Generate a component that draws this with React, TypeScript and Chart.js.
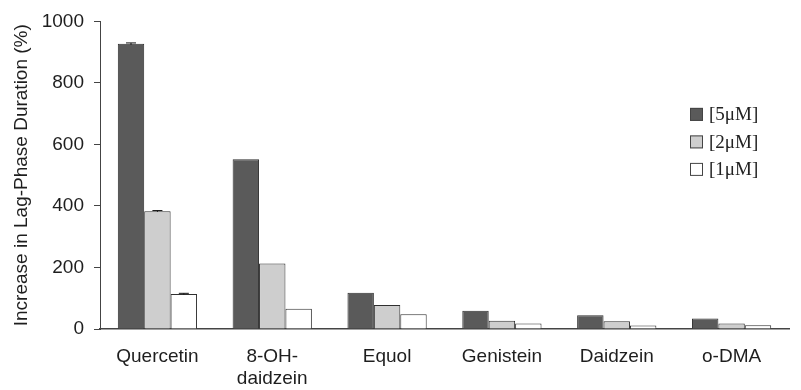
import React, { useEffect, useRef } from "react";
import { Chart, registerables } from "chart.js";

Chart.register(...registerables);

const categories: (string | string[])[] = ["Quercetin", ["8-OH-", "daidzein"], "Equol", "Genistein", "Daidzein", "o-DMA"];
const seriesLabels = ["[5\u03bcM]", "[2\u03bcM]", "[1\u03bcM]"];
const values5uM = [927, 552, 118, 59, 45, 34];
const values2uM = [383, 213, 78, 27, 25, 18];
const values1uM = [114, 66, 48, 18, 11, 12];
const errors5uM = [3, 0, 0, 0, 0, 0];
const errors2uM = [2, 0, 0, 0, 0, 0];
const errors1uM = [2, 0, 0, 0, 0, 0];
const yTicks = [0, 200, 400, 600, 800, 1000];

const fillColors = ["#5a5a5a", "#cecece", "#ffffff"];
const borderColor = "#2f2f2f";
const SANS = "'Liberation Sans', Arial, sans-serif";
const SERIF = "'Liberation Serif', 'Times New Roman', serif";

const errorBarPlugin = {
  id: "errorBars",
  afterDatasetsDraw(chart: any) {
    const ctx = chart.ctx;
    const y = chart.scales.y;
    const errs = [errors5uM, errors2uM, errors1uM];
    ctx.save();
    ctx.strokeStyle = "#111";
    ctx.lineWidth = 1;
    chart.data.datasets.forEach((ds: any, i: number) => {
      const meta = chart.getDatasetMeta(i);
      meta.data.forEach((bar: any, j: number) => {
        const e = errs[i][j];
        if (!e) return;
        const v = ds.data[j];
        const top = y.getPixelForValue(v + e);
        const bot = y.getPixelForValue(v - e);
        const x = bar.x;
        ctx.beginPath();
        ctx.moveTo(x, top);
        ctx.lineTo(x, bot);
        ctx.moveTo(x - 5, top);
        ctx.lineTo(x + 5, top);
        ctx.stroke();
      });
    });
    ctx.restore();
  },
};

const legendPlugin = {
  id: "customLegend",
  afterDraw(chart: any) {
    const ctx = chart.ctx;
    const area = chart.chartArea;
    const x0 = area.right - 99;
    const y0 = area.top + 93;
    const step = 27.5;
    ctx.save();
    ctx.font = `19px ${SERIF}`;
    ctx.textBaseline = "middle";
    ctx.textAlign = "left";
    chart.data.datasets.forEach((ds: any, i: number) => {
      const cy = y0 + i * step;
      ctx.fillStyle = ds.backgroundColor;
      ctx.fillRect(x0, cy - 6.5, 13, 13);
      ctx.strokeStyle = "#444";
      ctx.lineWidth = 1;
      ctx.strokeRect(x0 + 0.5, cy - 6, 12, 12);
      ctx.fillStyle = "#222";
      ctx.fillText(ds.label, x0 + 19, cy + 1);
    });
    ctx.restore();
  },
};

export default function App() {
  const canvasRef = useRef<HTMLCanvasElement | null>(null);

  useEffect(() => {
    if (!canvasRef.current) return;
    const seriesValues = [values5uM, values2uM, values1uM];
    const chart = new Chart(canvasRef.current, {
      type: "bar",
      data: {
        labels: categories,
        datasets: seriesValues.map((vals, i) => ({
          label: seriesLabels[i],
          data: vals,
          backgroundColor: fillColors[i],
          borderColor: borderColor,
          borderWidth: 1,
          categoryPercentage: 0.69,
          barPercentage: 1.0,
        })),
      },
      options: {
        animation: false,
        responsive: false,
        devicePixelRatio: 1,
        layout: { padding: { left: 0, right: 12, top: 21, bottom: 0 } },
        plugins: {
          legend: { display: false },
          tooltip: { enabled: false },
        },
        scales: {
          x: {
            grid: { display: true, drawOnChartArea: false, drawTicks: false, tickLength: 0 },
            border: { display: true, color: "#444", width: 1.5 },
            ticks: {
              color: "#1e1e1e",
              font: { family: SANS, size: 19 },
              padding: 16,
              maxRotation: 0,
              autoSkip: false,
            },
            afterFit: (scale: any) => {
              scale.height = 61;
            },
          },
          y: {
            min: 0,
            max: 1000,
            afterBuildTicks: (scale: any) => {
              scale.ticks = yTicks.map((v) => ({ value: v }));
            },
            grid: { display: true, drawOnChartArea: false, drawTicks: true, tickLength: 6, color: "#444" },
            border: { display: true, color: "#444", width: 1 },
            ticks: {
              color: "#1e1e1e",
              font: { family: SANS, size: 19 },
              padding: 10,
              callback: (v: any) => String(v),
            },
            title: {
              display: true,
              text: "Increase in Lag-Phase Duration (%)",
              color: "#1e1e1e",
              font: { family: SANS, size: 19 },
              padding: { top: 10, bottom: 0 },
            },
            afterFit: (scale: any) => {
              scale.width = 100;
            },
          },
        },
      },
      plugins: [errorBarPlugin, legendPlugin],
    });
    return () => chart.destroy();
  }, []);

  return (
    <div style={{ position: "fixed", left: 0, top: 0, width: 801, height: 390, background: "#fff" }}>
      <canvas ref={canvasRef} width={801} height={390} style={{ display: "block" }} />
    </div>
  );
}
